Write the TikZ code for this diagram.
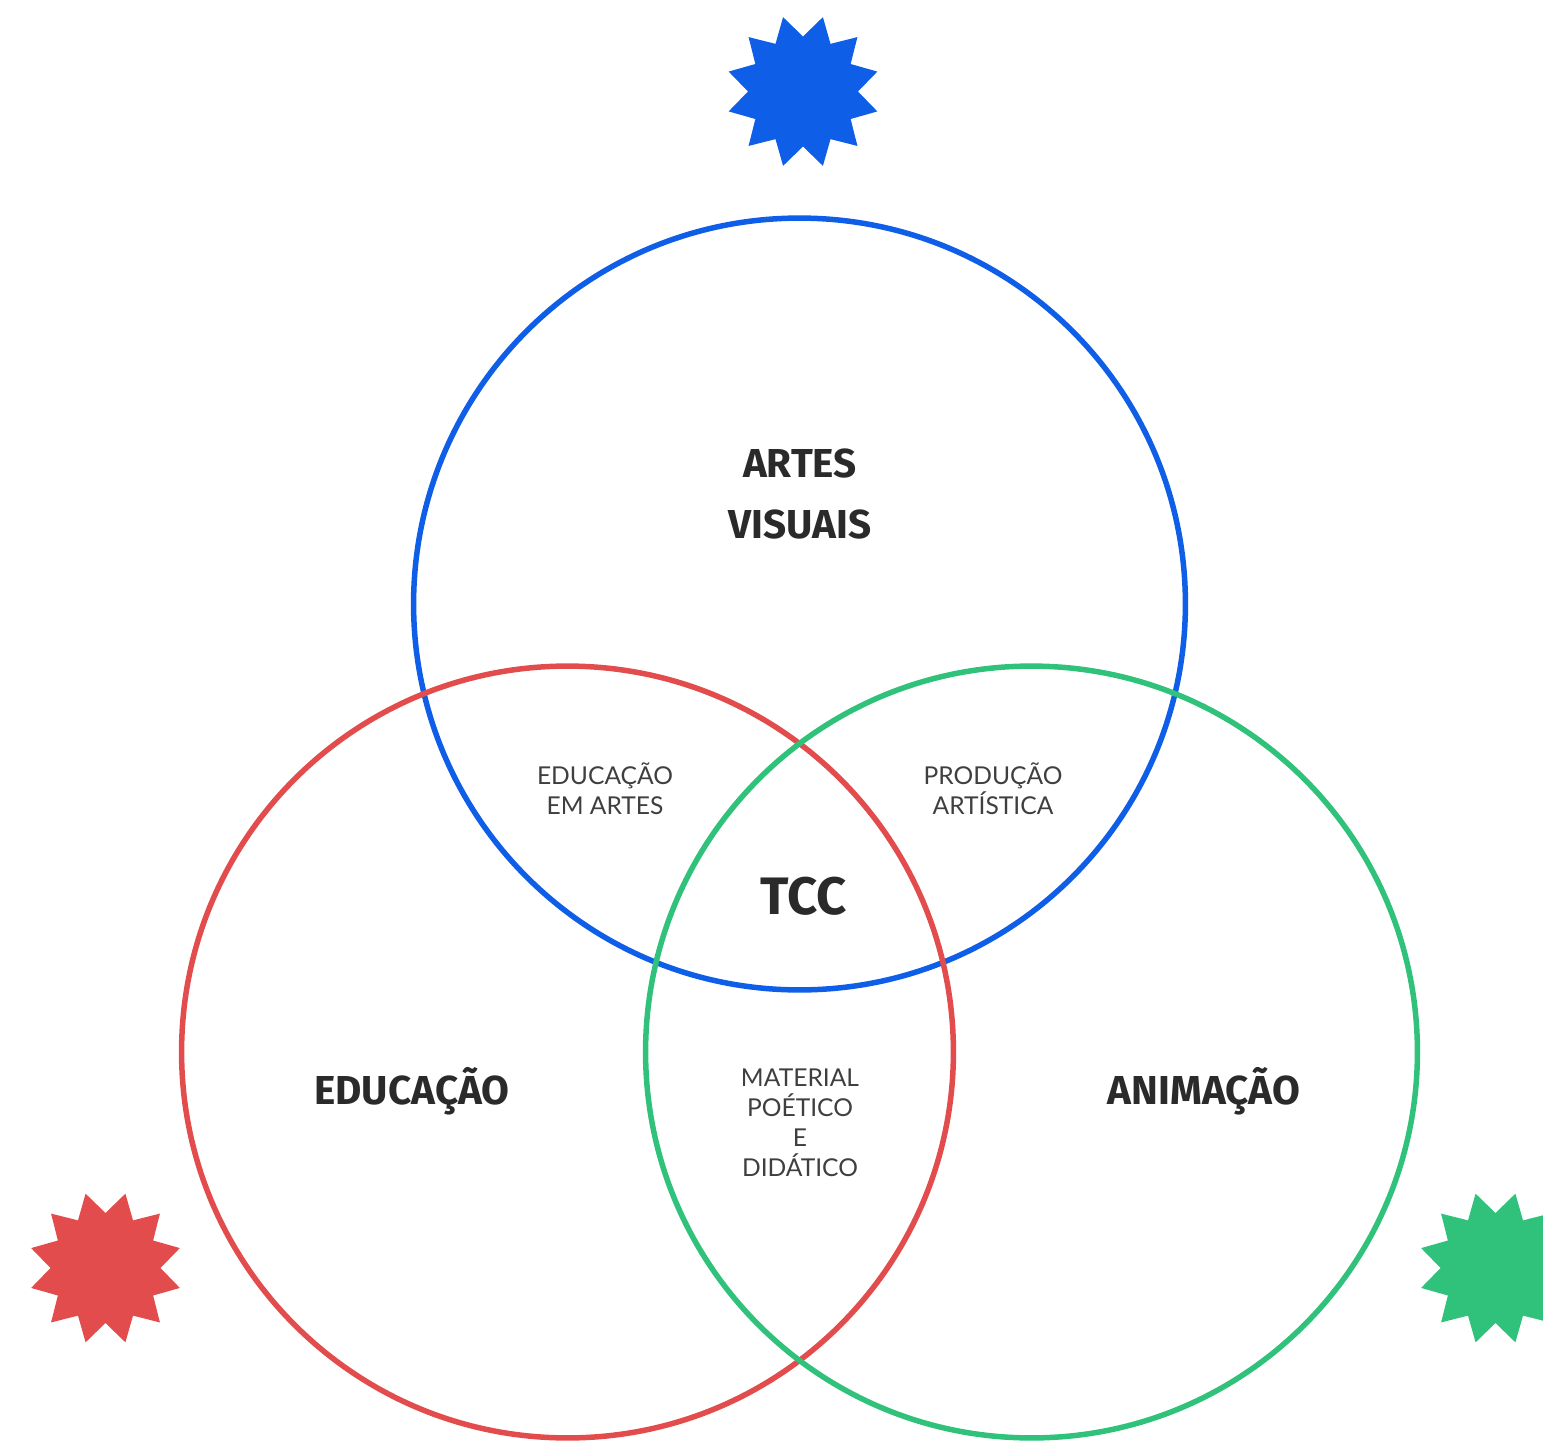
\documentclass[tikz,border=0pt]{standalone}
\usepackage{fontspec}
\setmainfont{Lato}
\newfontfamily\headfont{Fira Sans}
\usetikzlibrary{shapes.geometric}
\definecolor{azul}{RGB}{14,94,232}
\definecolor{vermelho}{RGB}{227,76,76}
\definecolor{verde}{RGB}{48,194,122}
\definecolor{texto}{RGB}{42,42,42}

\begin{document}
\begin{tikzpicture}[x=0.02cm,y=-0.02cm,
  area/.style={circle,draw,line width=0.11cm,minimum size=15.44cm,inner sep=0},
  estrela/.style={star,star points=12,star point ratio=1.4,shape border rotate=15,minimum size=3.08cm,inner sep=0,fill},
  titulo/.style={text=texto,font=\headfont\bfseries\fontsize{23}{35}\selectfont,align=center},
  rotulo/.style={text=texto!90,font=\fontsize{14}{17}\selectfont,align=center}]
\clip (0,0) rectangle (1543,1441);
%Circles
  \node[area,draw=azul] (A) at (799.5,604) {};
  \node[area,draw=vermelho] (B) at (567.5,1052) {};
  \node[area,draw=verde] (C) at (1031.5,1052) {};
%Stars
  \node[estrela,fill=azul] (Aa) at (803,91.5) {};
  \node[estrela,fill=vermelho] (Bb) at (105.5,1268) {};
  \node[estrela,fill=verde] (Cc) at (1495.5,1268) {};
%Main labels
  \node[titulo] (At) at (800,494) {ARTES\\VISUAIS};
  \node[titulo] (Bt) at (412,1091) {EDUCAÇÃO};
  \node[titulo] (Ct) at (1204,1091) {ANIMAÇÃO};
  \node[titulo,font=\headfont\bfseries\fontsize{30}{36}\selectfont] (T) at (804,896) {TCC};
%Overlaps
  \node[rotulo] (AB) at (605,789) {EDUCAÇÃO\\EM ARTES};
  \node[rotulo] (AC) at (993,789) {PRODUÇÃO\\ARTÍSTICA};
  \node[rotulo] (BC) at (800,1123) {MATERIAL\\POÉTICO\\E\\DIDÁTICO};
\end{tikzpicture}
\end{document}
